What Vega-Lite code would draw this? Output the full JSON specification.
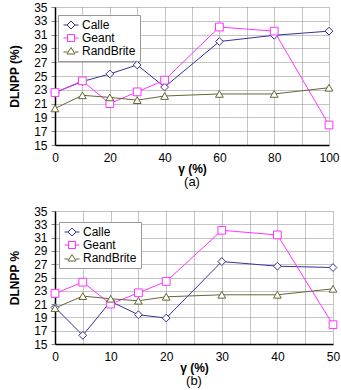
{
  "$schema": "https://vega.github.io/schema/vega-lite/v6.json",
  "padding": {"left": 8, "top": 1, "right": 0, "bottom": 0},
  "spacing": 16,
  "config": {
    "font": "Liberation Sans",
    "view": {"stroke": null},
    "axis": {
      "labelFont": "Liberation Sans",
      "labelFontSize": 12,
      "labelColor": "#000",
      "titleFont": "Liberation Sans",
      "titleFontSize": 12,
      "titleColor": "#000",
      "titleFontWeight": "bold",
      "gridColor": "#888",
      "gridDash": [1, 1],
      "gridOpacity": 1,
      "domainColor": "#000",
      "domainWidth": 1.5
    },
    "legend": {
      "labelFont": "Liberation Sans",
      "labelFontSize": 12,
      "labelColor": "#000"
    },
    "title": {"font": "Liberation Sans", "fontSize": 13, "fontWeight": "normal", "color": "#000"}
  },
  "datasets": {
    "a": [
      {"g": 0, "s": "Calle", "v": 22.6}, {"g": 10, "s": "Calle", "v": 24.2}, {"g": 20, "s": "Calle", "v": 25.3}, {"g": 30, "s": "Calle", "v": 26.6}, {"g": 40, "s": "Calle", "v": 23.4}, {"g": 60, "s": "Calle", "v": 30.0}, {"g": 80, "s": "Calle", "v": 30.9}, {"g": 100, "s": "Calle", "v": 31.5},
      {"g": 0, "s": "Geant", "v": 22.6}, {"g": 10, "s": "Geant", "v": 24.3}, {"g": 20, "s": "Geant", "v": 21.0}, {"g": 30, "s": "Geant", "v": 22.7}, {"g": 40, "s": "Geant", "v": 24.4}, {"g": 60, "s": "Geant", "v": 32.1}, {"g": 80, "s": "Geant", "v": 31.5}, {"g": 100, "s": "Geant", "v": 17.9},
      {"g": 0, "s": "RandBrite", "v": 20.3}, {"g": 10, "s": "RandBrite", "v": 22.2}, {"g": 20, "s": "RandBrite", "v": 21.9}, {"g": 30, "s": "RandBrite", "v": 21.5}, {"g": 40, "s": "RandBrite", "v": 22.1}, {"g": 60, "s": "RandBrite", "v": 22.4}, {"g": 80, "s": "RandBrite", "v": 22.4}, {"g": 100, "s": "RandBrite", "v": 23.3}
    ],
    "b": [
      {"g": 0, "s": "Calle", "v": 20.5}, {"g": 5, "s": "Calle", "v": 16.3}, {"g": 10, "s": "Calle", "v": 21.4}, {"g": 15, "s": "Calle", "v": 19.4}, {"g": 20, "s": "Calle", "v": 18.9}, {"g": 30, "s": "Calle", "v": 27.4}, {"g": 40, "s": "Calle", "v": 26.7}, {"g": 50, "s": "Calle", "v": 26.5},
      {"g": 0, "s": "Geant", "v": 22.6}, {"g": 5, "s": "Geant", "v": 24.3}, {"g": 10, "s": "Geant", "v": 21.0}, {"g": 15, "s": "Geant", "v": 22.7}, {"g": 20, "s": "Geant", "v": 24.4}, {"g": 30, "s": "Geant", "v": 32.1}, {"g": 40, "s": "Geant", "v": 31.4}, {"g": 50, "s": "Geant", "v": 17.9},
      {"g": 0, "s": "RandBrite", "v": 20.4}, {"g": 5, "s": "RandBrite", "v": 22.2}, {"g": 10, "s": "RandBrite", "v": 21.8}, {"g": 15, "s": "RandBrite", "v": 21.5}, {"g": 20, "s": "RandBrite", "v": 22.1}, {"g": 30, "s": "RandBrite", "v": 22.4}, {"g": 40, "s": "RandBrite", "v": 22.4}, {"g": 50, "s": "RandBrite", "v": 23.3}
    ]
  },
  "vconcat": [
    {
      "width": 274,
      "height": 138,
      "data": {"name": "a"},
      "title": {"text": "(a)", "orient": "bottom", "offset": 2},
      "encoding": {
        "x": {"field": "g", "type": "quantitative", "scale": {"domain": [0, 100], "nice": false},
          "axis": {"title": "γ (%)", "values": [0, 10, 20, 30, 40, 50, 60, 70, 80, 90, 100], "labelExpr": "datum.value % 20 == 0 ? datum.label : ''", "ticks": false, "labelPadding": 7, "titlePadding": 0, "labelFlush": false}},
        "y": {"field": "v", "type": "quantitative", "scale": {"domain": [15, 35], "nice": false, "zero": false},
          "axis": {"title": "DLNPP (%)", "values": [15, 17, 19, 21, 23, 25, 27, 29, 31, 33, 35], "tickSize": 4, "tickColor": "#888", "labelPadding": 4, "titlePadding": 12}},
        "color": {"field": "s", "type": "nominal", "scale": {"domain": ["Calle", "Geant", "RandBrite"], "range": ["#333399", "#ff33ff", "#666633"]},
          "legend": {"title": null, "orient": "none", "legendX": 3, "legendY": 8, "padding": 4, "strokeColor": "#999", "fillColor": "white", "rowPadding": 1, "symbolSize": 100, "symbolStrokeWidth": 1, "symbolFillColor": "white", "symbolOffset": 3, "labelOffset": 5,
            "encode": {"symbols": {"update": {"shape": {"signal": "datum.value == 'Calle' ? 'M-1.5,0H-0.8M0.8,0H1.5M0,-0.8L0.8,0L0,0.8L-0.8,0Z' : datum.value == 'Geant' ? 'M-1.5,0H-0.7M0.7,0H1.5M-0.7,-0.7H0.7V0.7H-0.7Z' : 'M-1.5,0.2H-0.7M0.7,0.2H1.5M0,-0.7L0.8,0.6L-0.8,0.6Z'"}}}}}}
      },
      "layer": [
        {"mark": {"type": "line", "strokeWidth": 1}},
        {"transform": [{"filter": "datum.s == 'Calle'"}], "mark": {"type": "point", "shape": "diamond", "filled": false, "fill": "white", "fillOpacity": 1, "size": 60, "strokeWidth": 1, "opacity": 1}},
        {"transform": [{"filter": "datum.s == 'Geant'"}], "mark": {"type": "point", "shape": "square", "filled": false, "fill": "white", "fillOpacity": 1, "size": 60, "strokeWidth": 1, "opacity": 1}},
        {"transform": [{"filter": "datum.s == 'RandBrite'"}], "mark": {"type": "point", "shape": "triangle-up", "filled": false, "fill": "white", "fillOpacity": 1, "size": 60, "strokeWidth": 1, "opacity": 1}}
      ]
    },
    {
      "width": 278,
      "height": 133,
      "data": {"name": "b"},
      "title": {"text": "(b)", "orient": "bottom", "offset": 2},
      "encoding": {
        "x": {"field": "g", "type": "quantitative", "scale": {"domain": [0, 50], "nice": false},
          "axis": {"title": "γ (%)", "values": [0, 5, 10, 15, 20, 25, 30, 35, 40, 45, 50], "labelExpr": "datum.value % 10 == 0 ? datum.label : ''", "ticks": false, "labelPadding": 7, "titlePadding": 0, "labelFlush": false}},
        "y": {"field": "v", "type": "quantitative", "scale": {"domain": [15, 35], "nice": false, "zero": false},
          "axis": {"title": "DLNPP %", "values": [15, 17, 19, 21, 23, 25, 27, 29, 31, 33, 35], "tickSize": 4, "tickColor": "#888", "labelPadding": 4, "titlePadding": 12}},
        "color": {"field": "s", "type": "nominal", "scale": {"domain": ["Calle", "Geant", "RandBrite"], "range": ["#333399", "#ff33ff", "#666633"]},
          "legend": {"title": null, "orient": "none", "legendX": 4, "legendY": 11, "padding": 4, "strokeColor": "#999", "fillColor": "white", "rowPadding": 1, "symbolSize": 100, "symbolStrokeWidth": 1, "symbolFillColor": "white", "symbolOffset": 3, "labelOffset": 5,
            "encode": {"symbols": {"update": {"shape": {"signal": "datum.value == 'Calle' ? 'M-1.5,0H-0.8M0.8,0H1.5M0,-0.8L0.8,0L0,0.8L-0.8,0Z' : datum.value == 'Geant' ? 'M-1.5,0H-0.7M0.7,0H1.5M-0.7,-0.7H0.7V0.7H-0.7Z' : 'M-1.5,0.2H-0.7M0.7,0.2H1.5M0,-0.7L0.8,0.6L-0.8,0.6Z'"}}}}}}
      },
      "layer": [
        {"mark": {"type": "line", "strokeWidth": 1}},
        {"transform": [{"filter": "datum.s == 'Calle'"}], "mark": {"type": "point", "shape": "diamond", "filled": false, "fill": "white", "fillOpacity": 1, "size": 60, "strokeWidth": 1, "opacity": 1}},
        {"transform": [{"filter": "datum.s == 'Geant'"}], "mark": {"type": "point", "shape": "square", "filled": false, "fill": "white", "fillOpacity": 1, "size": 60, "strokeWidth": 1, "opacity": 1}},
        {"transform": [{"filter": "datum.s == 'RandBrite'"}], "mark": {"type": "point", "shape": "triangle-up", "filled": false, "fill": "white", "fillOpacity": 1, "size": 60, "strokeWidth": 1, "opacity": 1}}
      ]
    }
  ],
  "resolve": {"scale": {"color": "independent"}}
}
